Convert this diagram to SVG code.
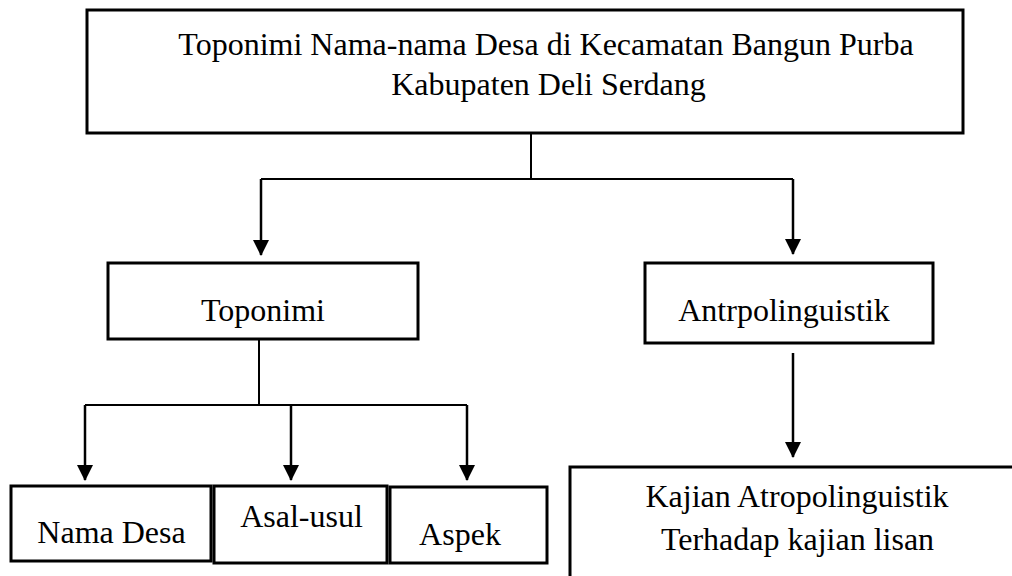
<svg xmlns="http://www.w3.org/2000/svg" width="1012" height="576" viewBox="0 0 1012 576">
<style>
.box{fill:#fff;stroke:#000;stroke-width:3}
.t{font-family:"Liberation Serif","Times New Roman",serif;font-size:32px;fill:#000;text-anchor:middle}
.ln{fill:none;stroke:#000;stroke-width:2}
.ar{fill:none;stroke:#000;stroke-width:2.5;marker-end:url(#ah)}
</style>
<defs>
<marker id="ah" markerUnits="userSpaceOnUse" markerWidth="18" markerHeight="18" refX="15" refY="8" orient="auto">
<path d="M0,0 L16,8 L0,16 Z" fill="#000"/>
</marker>
</defs>
<rect width="1012" height="576" fill="#fff"/>
<g id="connectors">
<path class="ln" d="M531,133 V179 M261,179 H793"/>
<path class="ar" d="M261,179 V255"/>
<path class="ar" d="M793,179 V254"/>
<path class="ln" d="M259,339 V405 M85,405 H467"/>
<path class="ar" d="M85,405 V480"/>
<path class="ar" d="M291,405 V480"/>
<path class="ar" d="M467,405 V480"/>
<path class="ar" d="M793,353 V457"/>
</g>
<g id="n-top">
<rect class="box" x="87" y="10" width="876" height="123"/>
<text class="t" x="546" y="55">Toponimi Nama-nama Desa di Kecamatan Bangun Purba</text>
<text class="t" x="548.5" y="95">Kabupaten Deli Serdang</text>
</g>
<g id="n-toponimi">
<rect class="box" x="108" y="263" width="310" height="76"/>
<text class="t" x="263" y="321">Toponimi</text>
</g>
<g id="n-antro">
<rect class="box" x="645" y="263" width="288" height="80"/>
<text class="t" x="784" y="321">Antrpolinguistik</text>
</g>
<g id="n-nama">
<rect class="box" x="11" y="486" width="200" height="75"/>
<text class="t" x="111.5" y="543">Nama Desa</text>
</g>
<g id="n-asal">
<rect class="box" x="214" y="486" width="173" height="77"/>
<text class="t" x="301.5" y="527">Asal-usul</text>
</g>
<g id="n-aspek">
<rect class="box" x="390" y="487" width="157" height="76"/>
<text class="t" x="460" y="545">Aspek</text>
</g>
<g id="n-kajian">
<rect class="box" x="570" y="467" width="460" height="130"/>
<text class="t" x="797" y="507">Kajian Atropolinguistik</text>
<text class="t" x="797.5" y="550">Terhadap kajian lisan</text>
</g>
</svg>
